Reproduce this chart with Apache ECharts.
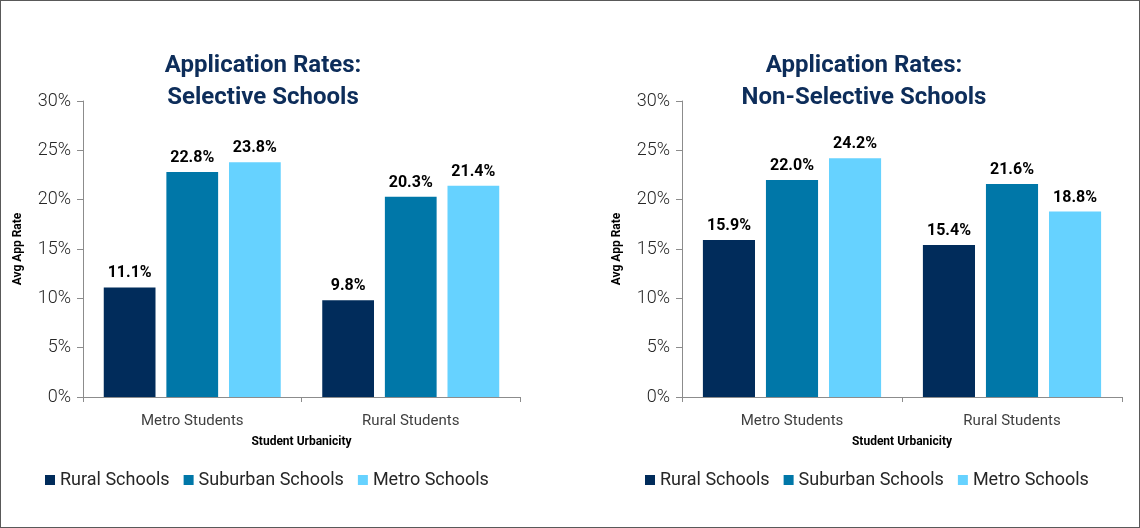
<!DOCTYPE html>
<html>
<head>
<meta charset="UTF-8">
<title>Application Rates</title>
<script src="https://cdn.jsdelivr.net/npm/echarts@6/dist/echarts.min.js"></script>
<style>
  html, body { margin: 0; padding: 0; background: #fff; }
  #container { width: 1140px; height: 528px; box-sizing: border-box; border: 1px solid #595959; }
</style>
</head>
<body>
<div id="container"></div>
<script>
// data
var categories = ['Metro Students', 'Rural Students'];
var seriesNames = ['Rural Schools', 'Suburban Schools', 'Metro Schools'];
var colors = ['#012c5b', '#0077a8', '#66d2ff'];
var yTicks = [0, 5, 10, 15, 20, 25, 30];

// selective schools
var selRural = [11.1, 9.8];
var selSuburban = [22.8, 20.3];
var selMetro = [23.8, 21.4];

// non-selective schools
var nonRural = [15.9, 15.4];
var nonSuburban = [22.0, 21.6];
var nonMetro = [24.2, 18.8];

var FONT = 'Roboto, "DejaVu Sans", sans-serif';
var axisGray = '#8c8c8c';

function xAxisOf(idx) {
  return {
    type: 'category',
    gridIndex: idx,
    data: categories,
    axisLine: { lineStyle: { color: axisGray } },
    axisTick: { show: true, length: 5, lineStyle: { color: axisGray } },
    axisLabel: { color: '#404040', fontSize: 15, fontFamily: FONT, margin: 17 },
    name: 'Student Urbanicity',
    nameLocation: 'middle',
    nameGap: 39,
    nameTextStyle: { color: '#000', fontWeight: 'bold', fontSize: 12, fontFamily: FONT }
  };
}

function yAxisOf(idx) {
  return {
    type: 'value',
    gridIndex: idx,
    min: yTicks[0],
    max: yTicks[yTicks.length - 1],
    interval: 5,
    splitLine: { show: false },
    axisLine: { show: true, lineStyle: { color: axisGray } },
    axisTick: { show: true, length: 6, lineStyle: { color: axisGray } },
    axisLabel: {
      color: '#262626', fontSize: 18, fontWeight: 300, fontFamily: FONT, margin: 12,
      formatter: function (v) { return v + '%'; }
    },
    name: 'Avg App Rate',
    nameLocation: 'middle',
    nameGap: 59,
    nameTextStyle: { color: '#000', fontWeight: 'bold', fontSize: 12, fontFamily: FONT }
  };
}

function barSeries(name, data, idx, color) {
  return {
    name: name,
    type: 'bar',
    xAxisIndex: idx,
    yAxisIndex: idx,
    data: data,
    itemStyle: { color: color },
    barGap: '21%',
    barCategoryGap: '19%',
    label: {
      show: true,
      position: 'top',
      distance: 6,
      color: '#000',
      fontWeight: 'bold',
      fontSize: 16,
      fontFamily: FONT,
      formatter: function (p) { return p.value.toFixed(1) + '%'; }
    }
  };
}

function legendOf(left) {
  return {
    left: left,
    top: 470,
    padding: 0,
    icon: 'rect',
    itemWidth: 10,
    itemHeight: 10,
    itemGap: 14,
    data: seriesNames,
    textStyle: { color: '#262626', fontSize: 18, fontFamily: FONT }
  };
}

function titleText(x, txt) {
  return {
    type: 'text',
    x: x,
    y: 49,
    style: {
      text: txt,
      textAlign: 'center',
      fill: '#0d2d5a',
      font: 'bold 24px ' + FONT,
      lineHeight: 32
    }
  };
}

var dom = document.getElementById('container');
var myChart = echarts.init(dom);

var option = {
  animation: false,
  backgroundColor: '#fff',
  color: colors,
  graphic: [
    titleText(262, 'Application Rates:\nSelective Schools'),
    titleText(863, 'Application Rates:\nNon-Selective Schools')
  ],
  legend: [legendOf(44), legendOf(644)],
  grid: [
    { left: 82, right: 619, top: 100, bottom: 130 },
    { left: 681, right: 17, top: 100, bottom: 130 }
  ],
  xAxis: [xAxisOf(0), xAxisOf(1)],
  yAxis: [yAxisOf(0), yAxisOf(1)],
  series: [
    barSeries(seriesNames[0], selRural, 0, colors[0]),
    barSeries(seriesNames[1], selSuburban, 0, colors[1]),
    barSeries(seriesNames[2], selMetro, 0, colors[2]),
    barSeries(seriesNames[0], nonRural, 1, colors[0]),
    barSeries(seriesNames[1], nonSuburban, 1, colors[1]),
    barSeries(seriesNames[2], nonMetro, 1, colors[2])
  ]
};

myChart.setOption(option, true);
</script>
</body>
</html>
